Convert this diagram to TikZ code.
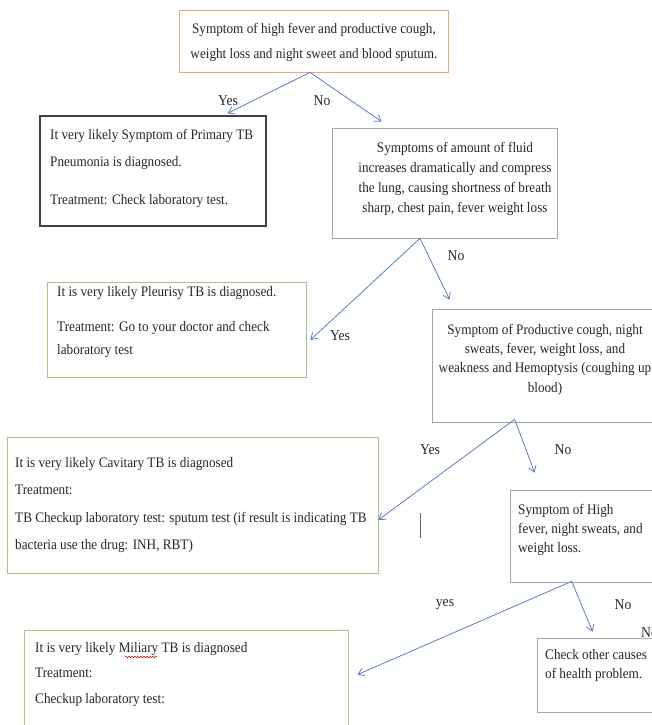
\documentclass[tikz,border=0pt]{standalone}
\usepackage{fontspec}
\setmainfont[FakeStretch=0.91]{Liberation Serif}
\usetikzlibrary{arrows.meta,calc,decorations.pathmorphing}
\definecolor{arr}{HTML}{5B7BC4}
\definecolor{orangeb}{HTML}{F0A47A}
\definecolor{greenb}{HTML}{A9C48A}
\definecolor{grayb}{HTML}{A6A6A6}
\definecolor{darkb}{HTML}{404040}
\begin{document}
\begin{tikzpicture}[x=1pt,y=-1pt,
  box/.style={draw, rectangle, inner sep=0pt, line width=0.7pt},
  txt/.style={inner sep=0pt, font=\fontsize{14.5}{20}\selectfont, text=black!85},
  lbl/.style={inner sep=0pt, font=\fontsize{15}{18}\selectfont, text=black!85},
  conn/.style={draw=arr, line width=0.8pt, -{Straight Barb[length=6pt,width=8pt]}}]
\useasboundingbox (0,0) rectangle (652,725);
\clip (0,0) rectangle (652,725);
% boxes
\node[box, draw=orangeb, minimum width=269, minimum height=62] (b0) at (313.5,41) {};
\node[box, draw=darkb, line width=1.2pt, minimum width=226, minimum height=110] (b1) at (153,171) {};
\node[box, draw=grayb, minimum width=225, minimum height=110] (b2) at (444.5,183) {};
\node[box, draw=greenb, minimum width=259, minimum height=95] (b3) at (176.5,329.5) {};
\node[box, draw=grayb, minimum width=230, minimum height=113] (b4) at (547,365.5) {};
\node[box, draw=greenb, minimum width=371, minimum height=136] (b5) at (192.5,505) {};
\node[box, draw=grayb, minimum width=152, minimum height=92] (b6) at (586,536) {};
\node[box, draw=greenb, minimum width=324, minimum height=110] (b7) at (186,685) {};
\node[box, draw=grayb, minimum width=125, minimum height=74] (b8) at (599.5,675) {};
% texts (anchor base = baseline of last line)
\node[txt, align=center, anchor=base] (t0) at (314,59) {Symptom of high fever and productive cough,\\[5pt]weight loss and night sweet and blood sputum.};
\node[txt, align=left, anchor=base west] (t1) at (50,204) {It very likely Symptom of Primary TB\\[7pt]Pneumonia is diagnosed.\\[18pt]Treatment: Check laboratory test.};
\node[txt, align=center, anchor=base] (t2) at (455,212) {Symptoms of amount of fluid\\increases dramatically and compress\\the lung, causing shortness of breath\\sharp, chest pain, fever weight loss};
\node[txt, align=left, anchor=base west] (t3) at (57,354) {It is very likely Pleurisy TB is diagnosed.\\[15pt]Treatment: Go to your doctor and check\\[3pt]laboratory test};
\node[txt, align=center, anchor=base] (t4) at (545,392) {Symptom of Productive cough, night\\[-0.7pt]sweats, fever, weight loss, and\\[-0.7pt]weakness and Hemoptysis (coughing up\\[-0.7pt]blood)};
\node[txt, align=left, anchor=base west] (t5) at (15,549.5) {It is very likely Cavitary TB is diagnosed\\[7.5pt]Treatment:\\[7.5pt]TB Checkup laboratory test: sputum test (if result is indicating TB\\[7.5pt]bacteria use the drug: INH, RBT)};
\node[txt, align=left, anchor=base west] (t6) at (518,552) {Symptom of High\\[-1pt]fever, night sweats, and\\[-1pt]weight loss.};
\node[txt, align=left, anchor=base west] (t7) at (35,703) {It is very likely Miliary TB is diagnosed\\[5.5pt]Treatment:\\[5.5pt]Checkup laboratory test:};
\node[txt, align=left, anchor=base west] (t8) at (545,678) {Check other causes\\[-1pt]of health problem.};
% spell-check underline
\draw[red!80!black, line width=0.5pt, decorate, decoration={snake, amplitude=0.8pt, segment length=3pt}] (125,657) -- (157,657);
% stray cursor line
\draw[black!60, line width=0.8pt] (420,513) -- (420,538);
% connectors
\coordinate (s0) at ([xshift=-3.5pt]b0.south);
\draw[conn] (s0) -- ([xshift=-39pt,yshift=2pt]b1.north east);
\draw[conn] (s0) -- ([xshift=50pt,yshift=6pt]b2.north west);
\coordinate (s2) at ([xshift=-24.5pt]b2.south);
\draw[conn] (s2) -- ([xshift=4pt,yshift=-10.5pt]b3.east);
\draw[conn] (s2) -- ([xshift=18pt,yshift=9pt]b4.north west);
\coordinate (s4) at ([xshift=83pt,yshift=3pt]b4.south west);
\draw[conn] (s4) -- ([xshift=0pt,yshift=-15pt]b5.east);
\draw[conn] (s4) -- ([xshift=25pt,yshift=17pt]b6.north west);
\coordinate (s6) at ([xshift=62pt,yshift=1pt]b6.south west);
\draw[conn] (s6) -- ([xshift=9pt,yshift=-45pt]b7.north east);
\draw[conn] (s6) -- ([xshift=56pt,yshift=6pt]b8.north west);
% labels
\node[lbl] (l1) at (228,101) {Yes};
\node[lbl] (l2) at (322,101) {No};
\node[lbl] (l3) at (456,256) {No};
\node[lbl] (l4) at (340,336) {Yes};
\node[lbl] (l5) at (430,450) {Yes};
\node[lbl] (l6) at (563,450) {No};
\node[lbl] (l7) at (445,605) {yes};
\node[lbl] (l8) at (623,605) {No};
\node[lbl, anchor=west] (l9) at (641,633) {No};
\end{tikzpicture}
\end{document}
